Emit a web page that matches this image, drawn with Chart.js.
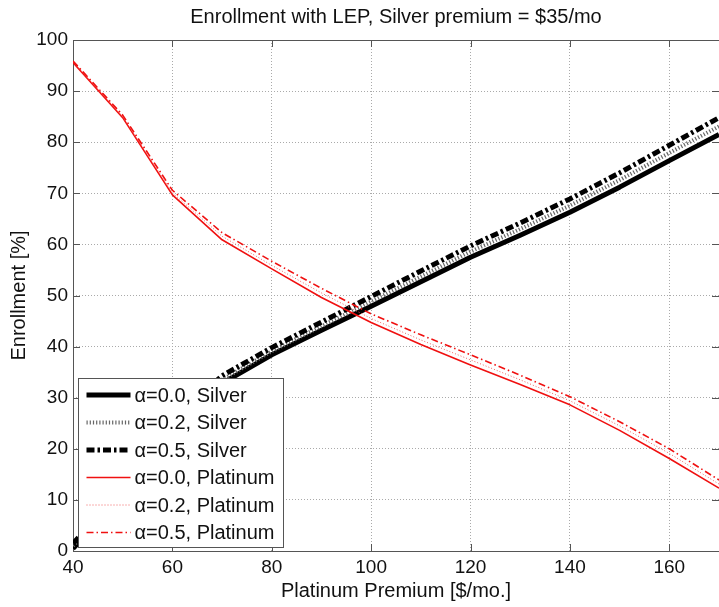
<!DOCTYPE html>
<html><head><meta charset="utf-8">
<script src="https://cdn.jsdelivr.net/npm/chart.js@4/dist/chart.umd.min.js"></script>
<style>html,body{margin:0;padding:0;background:#fff;overflow:hidden}canvas{display:block}</style>
</head><body>
<canvas id="c" width="719" height="607"></canvas>
<script>
// ---- data ----
const premiums = [40, 50, 60, 70, 80, 90, 100, 110, 120, 130, 140, 150, 160, 170];
const silverA00 = [0.5, 10.5, 24.0, 32.8, 38.4, 43.2, 47.9, 52.7, 57.5, 61.8, 66.3, 71.2, 76.4, 81.5];
const silverA02 = [1.0, 11.1, 24.7, 33.5, 39.1, 44.0, 48.8, 53.7, 58.6, 63.0, 67.6, 72.6, 77.9, 83.1];
const silverA05 = [1.5, 11.8, 25.5, 34.3, 39.8, 44.8, 49.8, 54.8, 59.7, 64.2, 68.9, 74.0, 79.4, 84.8];
const platA00 = [95.6, 84.8, 69.7, 60.9, 55.2, 49.6, 44.7, 40.4, 36.4, 32.6, 28.6, 23.6, 18.1, 12.3];
const platA02 = [95.7, 85.0, 70.1, 61.6, 55.9, 50.5, 45.5, 41.3, 37.4, 33.5, 29.4, 24.5, 19.1, 13.1];
const platA05 = [95.9, 85.3, 70.6, 62.3, 56.7, 51.4, 46.4, 42.3, 38.4, 34.4, 30.2, 25.3, 20.0, 13.9];
const seriesLabels = ['α=0.0, Silver', 'α=0.2, Silver', 'α=0.5, Silver', 'α=0.0, Platinum', 'α=0.2, Platinum', 'α=0.5, Platinum'];
const xTickStep = 20;
const yTickStep = 10;
const titleText = 'Enrollment with LEP, Silver premium = $35/mo';
const xTitle = 'Platinum Premium [$/mo.]';
const yTitle = 'Enrollment [%]';

const FONT = "'Liberation Sans', Arial, Helvetica, sans-serif";
const RED = '#f01010';

function pts(arr) { return premiums.map((p, i) => ({ x: p, y: arr[i] })); }

const styles = [
  { borderColor: '#000', borderWidth: 5, borderDash: [] },
  { borderColor: '#666', borderWidth: 4, borderDash: [1.2, 2] },
  { borderColor: '#000', borderWidth: 5, borderDash: [8, 3, 2.5, 3] },
  { borderColor: RED, borderWidth: 1.6, borderDash: [] },
  { borderColor: '#f06060', borderWidth: 1, borderDash: [1, 2] },
  { borderColor: RED, borderWidth: 1.6, borderDash: [7, 3, 1.5, 3] }
];
const seriesData = [silverA00, silverA02, silverA05, platA00, platA02, platA05];

const datasets = seriesData.map((arr, i) => Object.assign({
  label: seriesLabels[i],
  data: pts(arr),
  fill: false,
  pointRadius: 0,
  tension: 0,
  borderCapStyle: 'butt',
  borderJoinStyle: 'round',
  order: 6 - i
}, styles[i]));

// inward ticks + box + title
const axesBox = {
  id: 'axesBox',
  beforeDatasetsDraw(chart) {
    const { ctx, chartArea: a, scales } = chart;
    ctx.save();
    ctx.strokeStyle = '#555';
    ctx.lineWidth = 1;
    ctx.beginPath();
    const L = 7;
    scales.x.ticks.forEach(t => {
      const px = Math.round(scales.x.getPixelForValue(t.value)) + 0.5;
      ctx.moveTo(px, a.bottom); ctx.lineTo(px, a.bottom - L);
      ctx.moveTo(px, a.top); ctx.lineTo(px, a.top + L);
    });
    scales.y.ticks.forEach(t => {
      const py = Math.round(scales.y.getPixelForValue(t.value)) + 0.5;
      ctx.moveTo(a.left, py); ctx.lineTo(a.left + L, py);
      ctx.moveTo(a.right, py); ctx.lineTo(a.right - L, py);
    });
    ctx.stroke();
    ctx.strokeRect(Math.round(a.left) + 0.5, Math.round(a.top) + 0.5, Math.round(a.right - a.left), Math.round(a.bottom - a.top));
    ctx.restore();
  },
  afterDraw(chart) {
    const { ctx, chartArea: a } = chart;
    ctx.save();
    ctx.fillStyle = '#111';
    ctx.font = '20px ' + FONT;
    ctx.textAlign = 'center';
    ctx.textBaseline = 'middle';
    ctx.fillText(titleText, (a.left + a.right) / 2, 17);
    ctx.restore();
  }
};

const boxLegend = {
  id: 'boxLegend',
  afterDraw(chart) {
    const { ctx, chartArea: a } = chart;
    const w = 205, h = 169;
    const x0 = Math.round(a.left + 5) + 0.5;
    const y0 = Math.round(a.bottom - 4.5 - h) + 0.5;
    ctx.save();
    ctx.fillStyle = '#fff';
    ctx.fillRect(x0, y0, w, h);
    ctx.strokeStyle = '#555';
    ctx.lineWidth = 1;
    ctx.strokeRect(x0, y0, w, h);
    chart.data.datasets.forEach((ds, i) => {
      const cy = y0 + 16.5 + i * 27.5;
      ctx.beginPath();
      ctx.strokeStyle = ds.borderColor;
      ctx.lineWidth = ds.borderWidth;
      ctx.setLineDash(ds.borderDash || []);
      ctx.lineCap = 'butt';
      ctx.moveTo(x0 + 8, cy);
      ctx.lineTo(x0 + 52, cy);
      ctx.stroke();
      ctx.setLineDash([]);
      ctx.fillStyle = '#111';
      ctx.font = '20px ' + FONT;
      ctx.textBaseline = 'middle';
      ctx.textAlign = 'left';
      ctx.fillText(ds.label, x0 + 56, cy + 1);
    });
    ctx.restore();
  }
};

new Chart(document.getElementById('c'), {
  type: 'line',
  data: { datasets },
  plugins: [axesBox, boxLegend],
  options: {
    responsive: false,
    animation: false,
    devicePixelRatio: 1,
    layout: { padding: { left: 0, right: 0, top: 40, bottom: 0 } },
    plugins: {
      legend: { display: false },
      tooltip: { enabled: false },
      title: { display: false }
    },
    scales: {
      x: {
        type: 'linear', min: 40, max: 170,
        afterFit(s) { s.height = 56; },
        ticks: { stepSize: xTickStep, includeBounds: false, color: '#111', padding: 5,
          font: { family: FONT, size: 19 }, maxRotation: 0 },
        grid: { color: '#aaa', lineWidth: 1, drawTicks: false },
        border: { display: false, dash: [1, 2] },
        title: { display: true, text: xTitle, color: '#111', font: { family: FONT, size: 20 }, padding: { top: 0, bottom: 4 } }
      },
      y: {
        type: 'linear', min: 0, max: 100,
        afterFit(s) { s.width = 73; },
        ticks: { stepSize: yTickStep, color: '#111', padding: 5, font: { family: FONT, size: 19 } },
        grid: { color: '#aaa', lineWidth: 1, drawTicks: false },
        border: { display: false, dash: [1, 2] },
        title: { display: true, text: yTitle, color: '#111', font: { family: FONT, size: 20 }, padding: { top: 7, bottom: 0 } }
      }
    }
  }
});
</script>
</body></html>
